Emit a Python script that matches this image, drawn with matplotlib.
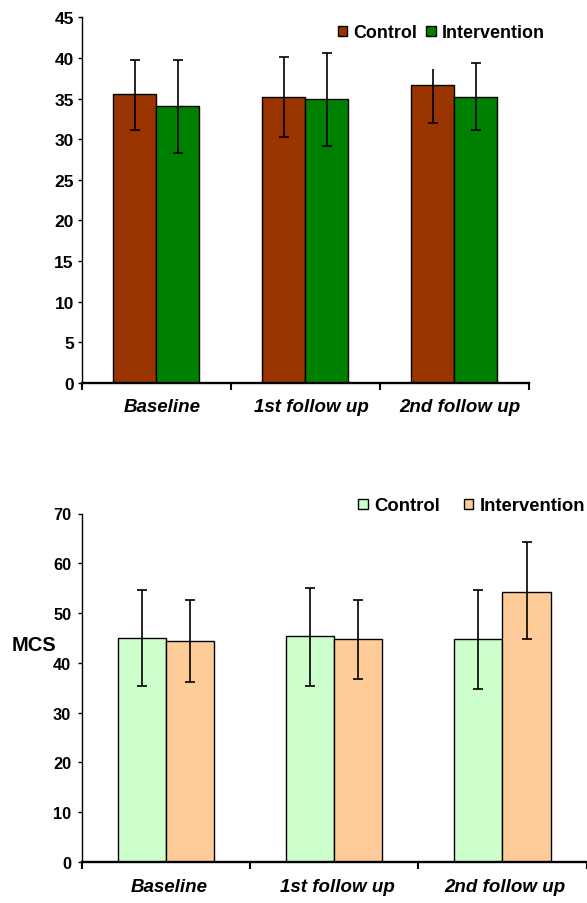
import matplotlib
matplotlib.use('Agg')
import matplotlib.pyplot as plt
import matplotlib.transforms as mtransforms
import numpy as np
from matplotlib.patches import Patch

plt.rcParams['font.family'] = ['Liberation Sans', 'DejaVu Sans']
plt.rcParams['font.weight'] = 'bold'

# ---------------- data ----------------
categories = ['Baseline', '1st follow up', '2nd follow up']
series = ['Control', 'Intervention']

top_control = [35.55, 35.14, 36.65]
top_control_lo = [4.45, 4.85, 4.66]
top_control_hi = [4.19, 5.00, 1.97]
top_control_hi_cap = [True, True, False]
top_interv = [34.07, 34.93, 35.15]
top_interv_lo = [5.71, 5.71, 4.00]
top_interv_hi = [5.67, 5.72, 4.20]
top_interv_hi_cap = [True, True, True]

mcs_control = [45.04, 45.38, 44.71]
mcs_control_lo = [9.61, 9.95, 9.94]
mcs_control_hi = [9.68, 9.67, 10.01]
mcs_control_hi_cap = [True, True, True]
mcs_interv = [44.37, 44.71, 54.32]
mcs_interv_lo = [8.27, 7.94, 9.61]
mcs_interv_hi = [8.35, 8.01, 10.01]
mcs_interv_hi_cap = [True, True, True]

top_yticks = [0, 5, 10, 15, 20, 25, 30, 35, 40, 45]
mcs_yticks = [0, 10, 20, 30, 40, 50, 60, 70]

# ---------------- figure ----------------
W, H = 587, 904
fig = plt.figure(figsize=(W / 100, H / 100), dpi=100)

ax1 = fig.add_axes([81.7 / W, 1 - 384 / H, (528.7 - 81.7) / W, (384 - 18.3) / H])
ax2 = fig.add_axes([81.7 / W, 1 - 863 / H, (586.5 - 81.7) / W, (863 - 514.5) / H])

bar_w = 0.287
x = np.arange(len(categories))


def draw(ax, c_vals, c_lo, c_hi, c_cap, i_vals, i_lo, i_hi, i_cap, colors):
    offs = [-bar_w / 2, bar_w / 2]
    groups = [(c_vals, c_lo, c_hi, c_cap), (i_vals, i_lo, i_hi, i_cap)]
    for k, (vals, lo, hi, cap) in enumerate(groups):
        xs = x + offs[k]
        ax.bar(xs, vals, width=bar_w, color=colors[k], edgecolor='black',
               linewidth=1.0, zorder=2)
        ax.errorbar(xs, vals, yerr=[lo, hi], fmt='none', ecolor='black',
                    elinewidth=1.2, capsize=0, zorder=3)
        vals_a = np.array(vals)
        ax.plot(xs, vals_a - np.array(lo), linestyle='none', marker='_',
                markersize=7.7, mew=1.2, color='black', zorder=3)
        caps_x = [xx for xx, c in zip(xs, cap) if c]
        caps_y = [v + h for v, h, c in zip(vals, hi, cap) if c]
        ax.plot(caps_x, caps_y, linestyle='none', marker='_',
                markersize=7.7, mew=1.2, color='black', zorder=3)


def style(ax, yticks, ylabsize, xpad, ypad, xshift_px):
    ax.set_xlim(-0.5, 2.5)
    ax.set_ylim(yticks[0], yticks[-1])
    ax.set_yticks(yticks)
    ax.set_yticklabels([str(t) for t in yticks], fontsize=ylabsize, fontweight='bold')
    ax.tick_params(axis='y', direction='out', length=3, width=1.0, pad=ypad)
    ax.set_xticks([-0.5, 0.5, 1.5, 2.5])
    ax.set_xticklabels([])
    ax.tick_params(axis='x', which='major', direction='out', length=5, width=1.5)
    ax.set_xticks(x, minor=True)
    ax.set_xticklabels(categories, minor=True, fontstyle='italic',
                       fontweight='bold', fontsize=13.5)
    ax.tick_params(axis='x', which='minor', length=0, pad=xpad)
    shift = mtransforms.ScaledTranslation(xshift_px / 100, 0, fig.dpi_scale_trans)
    for lab in ax.get_xticklabels(minor=True):
        lab.set_transform(lab.get_transform() + shift)
    for s in ['top', 'right']:
        ax.spines[s].set_visible(False)
    ax.spines['left'].set_linewidth(1.0)
    ax.spines['bottom'].set_linewidth(1.7)
    ax.spines['bottom'].set_zorder(4)


draw(ax1, top_control, top_control_lo, top_control_hi, top_control_hi_cap,
     top_interv, top_interv_lo, top_interv_hi, top_interv_hi_cap,
     ['#993300', '#008000'])
style(ax1, top_yticks, 12.5, 11, 2.7, 6)

draw(ax2, mcs_control, mcs_control_lo, mcs_control_hi, mcs_control_hi_cap,
     mcs_interv, mcs_interv_lo, mcs_interv_hi, mcs_interv_hi_cap,
     ['#CCFFCC', '#FFCC99'])
style(ax2, mcs_yticks, 11.8, 11.5, 4.5, 3)
ax2.set_ylabel('MCS', rotation=0, fontsize=14.5, fontweight='bold',
               ha='center', va='center')
ax2.yaxis.set_label_coords(-0.094, 0.6255)

# legends
h1 = [Patch(facecolor='#993300', edgecolor='black', linewidth=1.0),
      Patch(facecolor='#008000', edgecolor='black', linewidth=1.0)]
ax1.legend(h1, series, ncol=2, loc='center left',
           bbox_to_anchor=(338 / W, 1 - 34 / H), bbox_transform=fig.transFigure,
           frameon=False, handlelength=0.52, handleheight=0.52,
           handletextpad=0.35, columnspacing=0.5, borderpad=0, borderaxespad=0,
           prop=dict(weight='bold', size=12.9))

h2 = [Patch(facecolor='#CCFFCC', edgecolor='black', linewidth=1.0),
      Patch(facecolor='#FFCC99', edgecolor='black', linewidth=1.0)]
ax2.legend(h2, series, ncol=2, loc='center left',
           bbox_to_anchor=(358 / W, 1 - 507 / H), bbox_transform=fig.transFigure,
           frameon=False, handlelength=0.52, handleheight=0.52,
           handletextpad=0.35, columnspacing=1.3, borderpad=0, borderaxespad=0,
           prop=dict(weight='bold', size=13.3))

fig.savefig('out.png', dpi=100)
